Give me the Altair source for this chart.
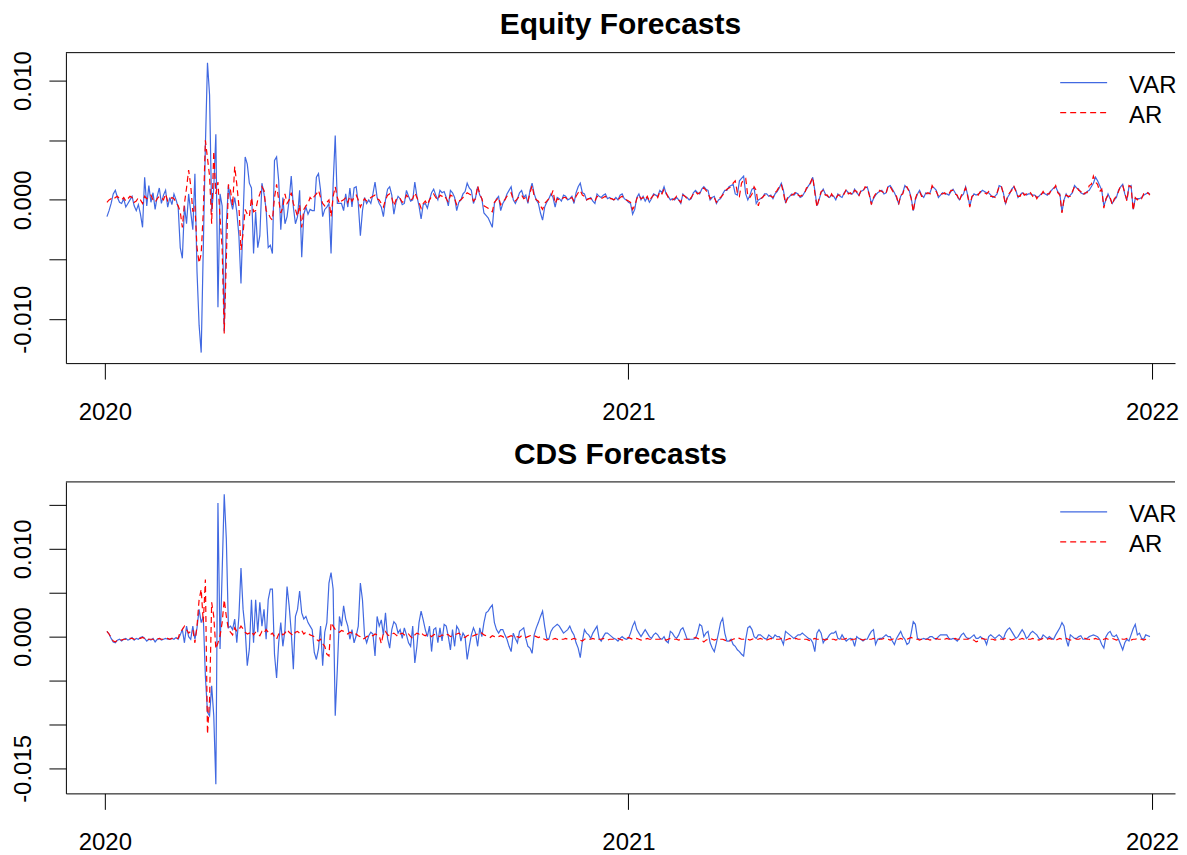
import altair as alt
import pandas as pd

# ---- time index of the two series (R ts: start, frequency) ----
START = 2020.004
FREQ = 250
SCALE = 1e-4          # all values below are in units of 1e-4

# ---- Equity forecasts ----
EQ_VAR = [
    -14, -9, -3, 5, 8, 2, -2, -3, 1, -6, -3, 0, 3, -5, -9, -4, -12, -23,
    19, -5, 12, -2, 6, -8, 3, 10, -3, 4, 8, -6, 2, -4, 5, 0,
    -6, -40, -49, -5, -20, 5, -10, -25, 22, -60, -105, -128, -40,
    45, 115, 88, -10, 10, 55, -90, 5, -5, -110, -20, 12, 0, -8,
    2, -10, -30, -70, -15, 36, 30, 14, 10, -45, -10, -40, -30, 14, 5, -8, -40, -38, -45,
    33, 36, 16, -25, 2, -20, -14, 0, 20, -6, -20, -14, 8, -48, -12, -6, -12, -8, -9, -9,
    19, 22, 8, -14, -8, -6, -3, -45, 13, 54, -3, -3, -3, -9, 5, -6, 10, -6, 10, 11,
    -3, -30, -9, 2, -3, 0, -3, 5, 15, 2, -3,
    -6, -14, 0, 9, 11, 4, -12, -2, 3, 1, -4, -3, 8, 3, -1, 0, 15, 3, -5, -16,
    -4, -3, -7, 0, 6, 9, 4, 0, 8, 6, 7, 2, -5, 8, 6, 2, -9, -2, 0, 5,
    7, 14, 10, 8, -3, 2, 11, 4, 1, -11, -13, -15, -19, -23, -3, 1, 3, -9, -3, 0,
    5, 8, 11, 0, -3, 1, 6, 8, 2, 4, -3, 8, 14, 5, 0, -3, -11, -17, -6, -2,
    1, 5, 2, -6, 2, 1, -1, 4, 3, 0, 1, 3, -3, 6, 11, 14, 6, 5, 0, 1,
    2, -1, -3, 5, 3, 2, 4, 5, 1, 2, 1, 0, 2, 0, 4, 5, 1, 0, -2, -3, -12, -8,
    2, 5, 0, 3, -1, 2, -2, 1, 5, 4, 3, 8, 6, 11, 5, 3, 0, 1, 0, 2,
    0, -3, 5, 3, 2, 0, 1, 6, 8, 6, 5, 9, 11, 9, 8, 0, 2, 3, -3, 0,
    1, 5, 8, 8, 11, 12, 13, 5, 4, 16, 18, 20, 5, 0, 4, 9, 10, -3, 0, 1, 2, 5,
    5, 3, 4, 1, 5, 7, 10, 14, 8, -2, 1, 3, 5, 4, 6, 5, 2, 3, 6, 9,
    12, 14, 19, 8, -5, 0, 6, 9, 5, 3, 2, 4, 3, 0, 5, 3, 2, 6, 8, 6,
    5, 5, 9, 6, 4, 7, 8, 10, 11, 5, -3, 1, 4, 6, 7, 8, 5, 6, 11, 12,
    9, 6, 2, -3, 3, 6, 12, 10, 8, 2, -9, 0, 5, 8, 4, 2, 6, 5, 6, 11,
    10, 8, 2, 4, 6, 5, 5, 4, 7, 9, 6, 3, 0, 3, 5, 11, 4, -5, 2, 5,
    4, 5, 6, 8, 7, 6, 6, 4, 2, 3, 5, 12, 11, 6, -3, 2, 5, 9, 11, 8,
    2, 4, 6, 5, 4, 5, 5, 4, 4, 2, 3, 5, 6, 5, 4, 6, 8, 10, 11, 7,
    5, -10, 0, 5, 2, 4, 6, 12, 10, 9, 6, 5, 5, 7, 8, 11, 14, 19, 16, 12,
    8, -5, 0, 5, 1, -3, 0, 2, 8, 11, 13, 5, 0, 11, 12, -8, 1, 1, 1, 2, 4, 5, 6, 5,
]
EQ_AR = [
    -2, 0, 1, 0, 2, 3, 1, 0, 2, -1, 1, 3, 2, -2, -1, 2, 0, -3,
    3, 1, 2, 4, 0, -2, 1, 3, 2, 0, 5, -1, 0, 2, 1, -2,
    -5, -10, -23, -3, 10, 25, 12, -10, -5, -40, -53, -45, -10,
    50, 35, 20, -20, 41, 5, 15, -15, -40, -112, -50, 13, 8, -5, 28,
    13, -5, -42, -28, -8, -12, -14, 2, -10, -9, 0, 5, 11, 8, -9, -11, -15, -17,
    2, 13, 0, -11, -6, 5, -3, 0, 6, -3, -8, -14, -4, -23, -8, -5, -3, 2, 0, 3,
    5, 8, 2, -3, -5, -2, 0, -14, 3, 11, 2, -3, -1, 0, 2, -2, 3, -1, 2, 4,
    0, -6, -2, 1, -1, 0, 2, 3, 4, 1, 0,
    -3, -6, 0, 4, 5, 2, -5, 0, 2, 1, -2, -1, 4, 2, 0, 1, 6, 2, -2, -7,
    -3, -1, -4, 0, 3, 5, 2, 0, 4, 3, 4, 1, -2, 4, 3, 1, -4, -1, 0, 2,
    4, 6, 5, 4, -1, 1, 12, 5, 1, -5, -6, -7, -9, -10, -2, 0, 2, -4, -1, 0,
    3, 4, 6, 0, -1, 1, 3, 4, 1, 2, -1, 6, 12, 3, 0, -1, -5, -8, -3, -1,
    1, 3, 8, -3, 1, 0, 0, 2, 2, 0, 1, 2, -1, 3, 6, 8, 4, 3, 0, 1,
    1, 0, -1, 3, 2, 1, 2, 3, 1, 1, 1, 0, 1, 0, 2, 3, 1, 0, -1, -2, -8, -5,
    1, 4, 1, 2, 0, 3, -1, 2, 4, 5, 2, 7, 5, 9, 6, 2, 1, 0, 1, 3,
    0, -2, 4, 3, 1, 0, 2, 5, 7, 5, 6, 8, 10, 8, 6, 1, 3, 2, -2, 1,
    2, 4, 7, 9, 10, 11, 14, 16, 6, 3, 14, 17, 18, 3, 2, 5, 11, 8, -5, 1, 2, 4,
    4, 4, 3, 2, 6, 8, 11, 13, 6, -3, 2, 4, 4, 5, 7, 4, 3, 4, 5, 10,
    11, 15, 19, 6, -6, 1, 7, 8, 4, 4, 1, 5, 2, 1, 4, 4, 3, 5, 9, 5,
    6, 4, 8, 7, 3, 8, 7, 11, 10, 4, -4, 2, 5, 5, 8, 7, 6, 5, 12, 11,
    8, 5, 3, -4, 4, 5, 11, 11, 7, 1, -10, 1, 6, 7, 3, 3, 5, 6, 5, 12,
    9, 7, 3, 5, 5, 6, 4, 5, 8, 8, 5, 4, -1, 4, 6, 10, 3, -6, 3, 4,
    5, 4, 7, 7, 6, 5, 7, 3, 3, 2, 6, 11, 12, 5, -4, 3, 6, 8, 12, 7,
    3, 3, 7, 4, 5, 4, 6, 3, 5, 1, 4, 4, 7, 4, 5, 5, 9, 9, 12, 6,
    4, -11, 1, 4, 3, 3, 7, 11, 11, 8, 7, 4, 6, 6, 12, 13, 20, 15, 13, 7,
    9, -7, 1, 4, 2, -4, 1, 3, 7, 12, 12, 6, -1, 12, 11, -9, 2, 0, 2, 1, 5, 4, 6, 4,
]

# ---- CDS forecasts ----
CDS_VAR = [
    6, 3, -2, -6, -7, -4, -3, -5, -3, -2, -4, -3, -1, -4, -2, -3, -1, 0, -2, -5,
    -3, -4, -2, -6, -3, -2, -4, -3, -2, -3, -3, -2, -3, -1, -3,
    2, 8, -7, 12, 0, -3, 12, -3, 10, 31, 16, 23, -45, -86, -90, -56, -90, -168, 152, -14,
    73, 162, 111, 10, 12, 8,
    20, -7, 23, 78, 31, 8, -33, -14, 42, -7, 42, 5, 39, 12, 31, -3, 42, 54, 54, -20,
    -47, -7, 16, -11, 8, 57, 35, 5, -37, 23, 31, 52, 27, 20, 23, 16, 12, 8, -18, -26,
    -14, 12, -33, 5, 16, 61, 73, 54, -90, -37, 23, 12, 35, 20, 12, -3, 8, -7, 1, 12,
    61, 42, 1, -7, 1, 5, 3, -22, 23, 12,
    19, 2, 27, -2, -13, 8, 17, 14, 4, 8, -2, 10, 2, -7, -11, 12, -30, -11, 16, 29,
    19, 8, 0, 12, -17, 8, 10, -7, 10, -5, 14, 12, 0, -15, 8, -11, 12, 8, -5, 4,
    0, -26, -11, 2, 10, 4, -11, 10, 0, 16, 27, 29, 33, 36, 16, 8, 4, 8, 8, 2,
    -3, -11, -17, 4, -2, -7, 6, 8, 10, -2, -11, -13, -19, 2, 10, 16, 23, 29, 12, -2,
    -3, 6, 10, 12, 14, 12, 8, 4, 6, 8, 12, 6, 2, -7, -13, -24, -5, 8, 4, 2,
    -2, 4, 8, 12, -2, -5, 0, 4, 4, 2, 0, -2, -3, -5, -2, 0, -2, -3, -2, 4,
    12, 17, 8, 4, 0, 4, 8, 4, 0, -2, 2, 4, 2, -2, -3, 0, -5, -7, 6, 4,
    0, -2, 2, 8, 10, 4, -3, -3, -3, -3, -2, 4, 14, 12, 0, 4, 6, -7, -13, -17,
    -7, 4, 16, 21, 4, -5, -5, -3, -9, -11, -15, -17, -20, -22, -3, 10, 12, 8, 0, -2,
    2, 2, 0, -2, -3, 2, 0, -2, 2, 0,
    0, -3, -9, 6, 4, 2, 0, -2, 0, 2, 2, 4, 2, 0, -2, -3, -7, -17, 4, 8,
    4, -7, -3, -2, 2, 4, 4, 6, -2, -3, 2, -2, -5, -3, -2, -3, -11, 0, -2, -3,
    -5, -3, -3, 2, 6, 8, -9, -3, -2, -2, 0, 2, 0, 0, -5, -9, -2, 2, 6, 0,
    -3, -9, -7, 4, 17, 14, -2, -3, -3, -2, -3, -2, 0, 0, -2, -3, 0, 2, 2, 2,
    2, -2, -3, -2, -3, -5, -2, 2, 4, 0, -2, -2, 0, 2, -2, -2, 0, -2, -3, -9,
    0, 2, 0, -2, 0, 2, 0, -3, 4, 8, 10, 6, 2, -2, 0, 4, 8, 4, -2, 0,
    4, 6, 4, 2, -2, -3, 2, 0, -2, 0, -2, -3, 2, 6, 10, 16, 12, -3, -11, 2,
    0, -2, -2, 0, 1, -3, -3, -2, 0, 1, 2, 1, 0, -3, -9, -13, 0, 4, 6, 1,
    0, 2, -3, -9, -15, -7, -3, -5, 2, 9, 14, 2, 4, -2, -3, 2, 1, 0,
]
CDS_AR = [
    6, 3, -1, -5, -6, -4, -3, -4, -3, -3, -4, -2, -2, -3, -3, -2, -2, -1, -2, -4,
    -3, -3, -3, -4, -3, -2, -3, -3, -2, -2, -3, -2, -2, -2, -2,
    6, 8, 12, 8, 4, 6, 8, -7, 12, 42, 54, 16, 65, -111, -71, 39, 23, -14, -7, 1,
    16, 42, 23, 8, 5, 2,
    10, 6, 8, 12, 9, 5, 3, 4, 6, 2, 5, 3, 1, 6, 4, 8, 5, 2, 4, 0,
    -3, 3, 5, 2, 4, 8, 5, 3, 1, 5, 6, 4, 7, 3, 5, 4, 2, 1, 0, -3,
    -5, -3, -8, -11, -20, -22, 16, 12, 8, 6, 5, 7, 6, 4, 3, 5, 4, 2, 3, 1,
    0, -3, -2, 0, 1, 2, 1, 3, 2, 1,
    -8, 4, 6, 2, 1, 3, 4, 2, 0, 3, 4, 2, 1, 3, 0, -2, 2, 4, 3, 5,
    2, 1, 3, 2, 0, 2, 3, 1, 0, 2, 1, 3, 2, 0, 1, 2, 3, 4, 2, 0,
    -1, 1, 2, 0, 1, 2, 3, 5, 4, 2, 1, 0, -1, 1, 0, -1, 0, 1, 0, -2,
    -1, 0, 1, 0, -1, 0, -1, 1, 0, -1, 0, 1, 2, 1, 0, -1, 0, -2, -3, -4,
    -3, -4, -3, -2, -3, -4, -3, -3, -2, -3, -4, -3, -2, -3, -3, -4, -5, -3, -2, -3,
    -3, -2, -3, -4, -3, -3, -2, -3, -4, -3, -3, -3, -2, -2, -3, -4, -3, -2, -1, -2,
    -3, -3, -2, -3, -4, -3, -3, -2, -3, -3, -3, -3, -3, -3, -2, -3, -4, -3, -2, -3,
    -3, -3, -4, -3, -3, -3, -3, -3, -3, -2, -1, -2, -3, -4, -6, -4, -3, -2, -3, -4,
    -3, -2, -3, -3, -4, -5, -6, -4, -3, -2, -1, -2, -3, -3, -2, -3, -4, -3, -2, -3,
    -3, -2, -3, -3, -4, -3, -2, -3, -3, -3,
    -3, -2, -3, -4, -3, -2, -3, -3, -2, -3, -3, -2, -3, -3, -4, -5, -3, -2, -3, -3,
    -2, -3, -4, -3, -2, -3, -3, -4, -3, -2, -3, -3, -2, -3, -4, -3, -3, -2, -3, -3,
    -4, -3, -2, -3, -3, -2, -3, -4, -3, -3, -2, -3, -3, -4, -3, -2, -3, -3, -2, -3,
    -3, -3, -2, -1, -2, -3, -3, -4, -3, -2, -3, -3, -4, -3, -3, -2, -3, -3, -4, -3,
    -2, -3, -3, -3, -2, -3, -3, -4, -3, -3, -3, -2, -3, -4, -6, -5, -3, -2, -3, -3,
    -2, -3, -3, -4, -3, -2, -3, -3, -2, -3, -3, -4, -3, -2, -3, -3, -2, -3, -4, -3,
    -3, -2, -3, -3, -4, -3, -2, -3, -3, -2, -3, -3, -4, -3, -2, -3, -3, -2, -3, -4,
    -3, -2, -3, -3, -2, -1, -2, -3, -3, -4, -3, -2, -3, -3, -4, -3, -2, -3, -3, -2,
    -3, -4, -3, -2, -3, -3, -2, -3, -4, -3, -3, -2, -3, -3, -4, -3, -2, -3,
]

# ---- axes ----
X_DOMAIN = [2019.9256, 2022.0439]
X_TICK_COUNT = 2        # gives yearly ticks 2020, 2021, 2022 on this domain
EQ_Y_DOMAIN = [-0.013682, 0.012343]
EQ_Y_TICKS = [-0.010, -0.005, 0.0, 0.005, 0.010]
EQ_Y_LABELED = [-0.010, 0.0, 0.010]
CDS_Y_DOMAIN = [-0.01784, 0.01761]
CDS_Y_TICKS = [-0.015, -0.010, -0.005, 0.0, 0.005, 0.010, 0.015]
CDS_Y_LABELED = [-0.015, 0.0, 0.010]

SERIES = ["VAR", "AR"]
BLUE = "#4169E1"
RED = "#FF0000"
FONT = "Liberation Sans"
DASH = [6, 4]

PLOT_W = 1111


def make_frame(var, ar):
    rows = []
    for name, vals in (("VAR", var), ("AR", ar)):
        for i, v in enumerate(vals):
            rows.append({"t": START + i / FREQ, "value": v * SCALE, "series": name})
    return pd.DataFrame(rows)


def label_expr(labeled):
    cond = " || ".join(f"abs(datum.value - ({v})) < 1e-9" for v in labeled)
    return (f"({cond}) ? ((datum.value < -1e-12 ? '-' : '') + "
            f"format(abs(datum.value), '.3f')) : ''")


def panel(title, df, ydom, yticks, labeled, height):
    xs = alt.Scale(domain=X_DOMAIN, nice=False, zero=False)
    ys = alt.Scale(domain=ydom, nice=False, zero=False)
    x_enc = alt.X("t:Q", scale=xs, title=None,
                  axis=alt.Axis(tickCount=X_TICK_COUNT, format="d",
                                grid=False, tickSize=16, labelPadding=21,
                                labelBaseline="top", labelFlush=False,
                                labelOverlap=False))
    y_enc = alt.Y("value:Q", scale=ys, title=None,
                  axis=alt.Axis(values=yticks, grid=False,
                                tickSize=17, labelAngle=-90, labelAlign="center",
                                labelBaseline="alphabetic", labelPadding=18,
                                labelExpr=label_expr(labeled),
                                labelOverlap=False, labelFlush=False))
    var_line = (alt.Chart(df).transform_filter(alt.datum.series == "VAR")
                .mark_line(color=BLUE, strokeWidth=1.2)
                .encode(x=x_enc, y=y_enc))
    ar_line = (alt.Chart(df).transform_filter(alt.datum.series == "AR")
               .mark_line(color=RED, strokeWidth=1.2, strokeDash=DASH)
               .encode(x=x_enc, y=y_enc))
    one = pd.DataFrame({"k": [0]})
    # top edge of the box
    top_edge = alt.Chart(one).mark_rule(color="black", strokeWidth=1).encode(
        x=alt.value(0), x2=alt.value(PLOT_W), y=alt.value(0))
    leg_var_line = alt.Chart(one).mark_rule(color=BLUE, strokeWidth=1.2).encode(
        x=alt.value(996), x2=alt.value(1043), y=alt.value(30))
    leg_ar_line = alt.Chart(one).mark_rule(color=RED, strokeWidth=1.2, strokeDash=DASH).encode(
        x=alt.value(996), x2=alt.value(1043), y=alt.value(60))
    leg_var_text = alt.Chart(one).mark_text(
        align="left", baseline="middle", fontSize=24, font=FONT, color="black").encode(
        x=alt.value(1065), y=alt.value(33), text=alt.value(SERIES[0]))
    leg_ar_text = alt.Chart(one).mark_text(
        align="left", baseline="middle", fontSize=24, font=FONT, color="black").encode(
        x=alt.value(1065), y=alt.value(63), text=alt.value(SERIES[1]))
    return alt.layer(var_line, ar_line, top_edge, leg_var_line, leg_ar_line,
                     leg_var_text, leg_ar_text).properties(
        width=PLOT_W, height=height,
        title=alt.TitleParams(title, fontSize=30, fontWeight="bold", font=FONT,
                              anchor="middle", baseline="alphabetic", offset=-13,
                              color="black"))


top = panel("Equity Forecasts", make_frame(EQ_VAR, EQ_AR), EQ_Y_DOMAIN,
            EQ_Y_TICKS, EQ_Y_LABELED, 311)
bottom = panel("CDS Forecasts", make_frame(CDS_VAR, CDS_AR), CDS_Y_DOMAIN,
               CDS_Y_TICKS, CDS_Y_LABELED, 312)

chart = (alt.vconcat(top, bottom, spacing=16)
         .properties(padding={"left": 3, "top": 0, "right": 0, "bottom": 0})
         .configure_view(stroke=None)
         .configure_axis(labelFont=FONT, labelFontSize=24, labelColor="black",
                         tickColor="black", domainColor="black", tickWidth=1,
                         domainWidth=1))

chart.save("out.html", embed_options={"renderer": "svg", "actions": False})
